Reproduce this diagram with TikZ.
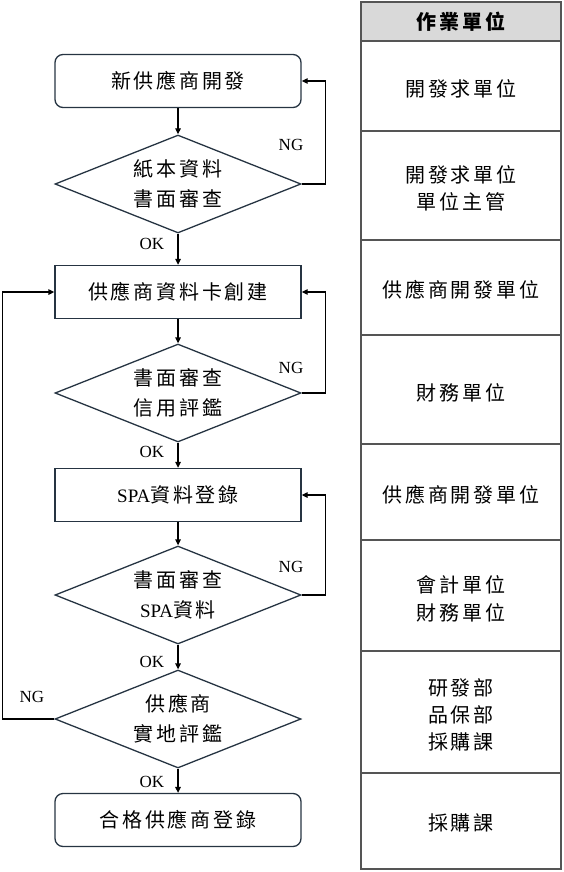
\documentclass[tikz,border=0pt]{standalone}
\usepackage{fontspec}
\setmainfont{Liberation Serif}
\newfontfamily\cjk[LetterSpace=14]{Noto Sans CJK TC}
\usetikzlibrary{shapes.geometric,arrows.meta}
\definecolor{boxc}{RGB}{38,52,66}
\definecolor{tabc}{RGB}{85,85,85}
\definecolor{hdr}{RGB}{217,217,217}
\begin{document}
\begin{tikzpicture}[x=1pt,y=-1pt,
  box/.style={draw=boxc, line width=1.3pt, minimum width=246pt, minimum height=53pt, inner sep=0pt, font=\cjk\fontsize{20}{30}\selectfont},
  rbox/.style={box, rounded corners=8pt},
  dia/.style={diamond, draw=boxc, line width=1.3pt, minimum width=246pt, minimum height=98pt, inner sep=0pt, aspect=2.5, align=center, font=\cjk\fontsize{20}{30}\selectfont},
  arr/.style={line width=1.3pt, -{Triangle[length=6pt,width=5.5pt]}},
  lab/.style={font=\fontsize{17}{17}\selectfont, inner sep=0pt},
  cell/.style={draw=tabc, line width=1.2pt},
  ctext/.style={align=center, inner sep=0pt, font=\cjk\fontsize{20}{27}\selectfont}
]
\useasboundingbox (0,0) rectangle (563,872);

% flowchart
\node[rbox] (b1) at (178,81) {新供應商開發};
\node[dia] (d1) at (178,184) {紙本資料\\書面審查};
\node[box] (b2) at (178,292) {供應商資料卡創建};
\node[dia] (d2) at (178,393) {書面審查\\信用評鑑};
\node[box] (b3) at (178,495) {{\rmfamily\fontsize{19}{30}\selectfont SPA}資料登錄};
\node[dia] (d3) at (178,595) {書面審查\\{\rmfamily\fontsize{19}{30}\selectfont SPA}資料};
\node[dia] (d4) at (178,719) {供應商\\實地評鑑};
\node[rbox] (b4) at (178,820) {合格供應商登錄};

\draw[arr] (b1) -- (d1);
\draw[arr] (d1) -- (b2);
\draw[arr] (b2) -- (d2);
\draw[arr] (d2) -- (b3);
\draw[arr] (b3) -- (d3);
\draw[arr] (d3) -- (d4);
\draw[arr] (d4) -- (b4);

\draw[arr] (d1.east) -- ++(24,0) |- (b1.east);
\draw[arr] (d2.east) -- ++(24,0) |- (b2.east);
\draw[arr] (d3.east) -- ++(24,0) |- (b3.east);
\draw[arr] (d4.west) -- ++(-52,0) |- (b2.west);

\node[lab] (ng1) at (291,145) {NG};
\node[lab] (ok1) at (152,244) {OK};
\node[lab] (ng2) at (291,368) {NG};
\node[lab] (ok2) at (152,452) {OK};
\node[lab] (ng3) at (291,567) {NG};
\node[lab] (ok3) at (152,662) {OK};
\node[lab] (ng4) at (32,697) {NG};
\node[lab] (ok4) at (152,782) {OK};

% table
\fill[hdr] (361,2) rectangle (561,41);
\draw[cell] (361,2) rectangle (561,869);
\foreach \yy in {41,131,240,335,444,540,651,773}
  \draw[cell] (361,\yy) -- (561,\yy);

\node[ctext, font=\cjk\bfseries\fontsize{20}{27}\selectfont] (h) at (461,22) {作業單位};
\node[ctext] (r1) at (461,89) {開發求單位};
\node[ctext] (r2) at (461,188) {開發求單位\\單位主管};
\node[ctext] (r3) at (461,290) {供應商開發單位};
\node[ctext] (r4) at (461,393) {財務單位};
\node[ctext] (r5) at (461,495) {供應商開發單位};
\node[ctext, font=\cjk\fontsize{20}{28}\selectfont] (r6) at (461,599) {會計單位\\財務單位};
\node[ctext] (r7) at (461,715) {研發部\\品保部\\採購課};
\node[ctext] (r8) at (461,823) {採購課};
\end{tikzpicture}
\end{document}
